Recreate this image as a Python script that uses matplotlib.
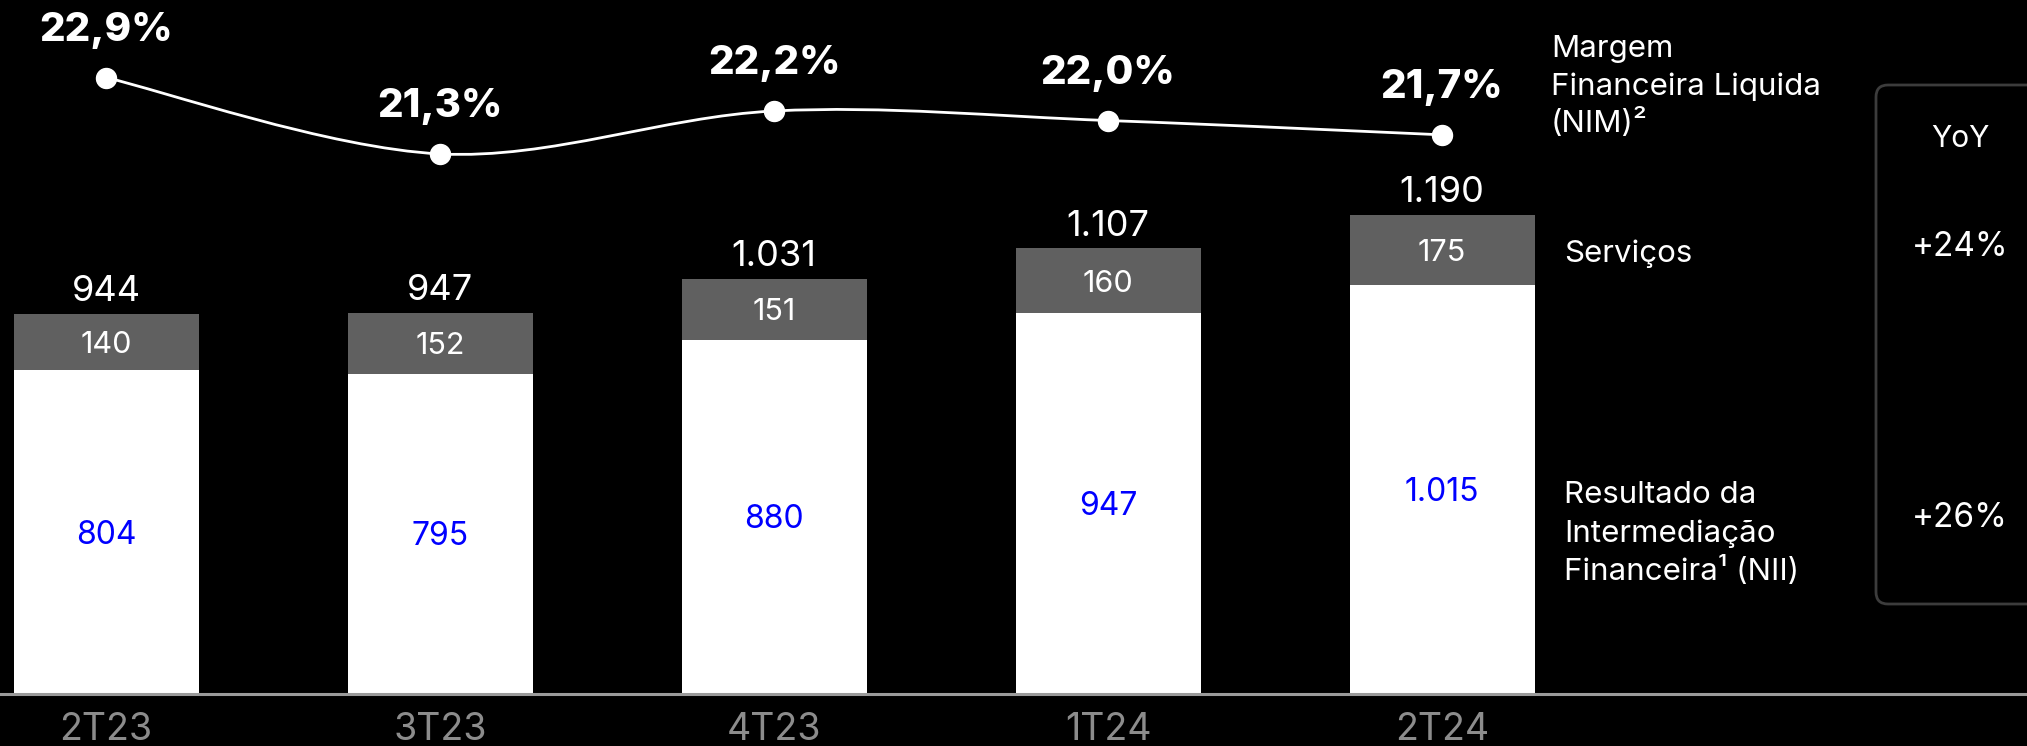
import matplotlib
matplotlib.use('Agg')
import matplotlib.pyplot as plt
from matplotlib.path import Path
from matplotlib.patches import PathPatch, FancyBboxPatch
from matplotlib.transforms import IdentityTransform
import numpy as np

# ---- data ----
categories = ['2T23', '3T23', '4T23', '1T24', '2T24']
nii = [804, 795, 880, 947, 1015]
servicos = [140, 152, 151, 160, 175]
nim = [22.9, 21.3, 22.2, 22.0, 21.7]
yoy_labels = ['+24%', '+26%']


def fmt_int(v):
    return f"{v:,}".replace(',', '.')


def fmt_pct(v):
    return f"{v:.1f}%".replace('.', ',')


plt.rcParams['font.family'] = ['Inter', 'DejaVu Sans']

W, H = 2027, 746
fig = plt.figure(figsize=(W / 100, H / 100), dpi=100, facecolor='black')

base_px = 694
px_per_unit = 0.4026
spacing = 334
first_c = 106

ax = fig.add_axes([0, (H - base_px) / H, 1, base_px / H])
ax.set_facecolor('black')
x = np.arange(len(categories))
ax.set_xlim(-first_c / spacing, (W - first_c) / spacing)
ax.set_ylim(0, base_px / px_per_unit)
bw = 185 / spacing

totals = [a + b for a, b in zip(nii, servicos)]
ax.bar(x, nii, bw, color='white', zorder=2)
ax.bar(x, servicos, bw, bottom=nii, color='#606060', zorder=2)

for s in ['top', 'left', 'right']:
    ax.spines[s].set_visible(False)
ax.spines['bottom'].set_color('#9a9a9a')
ax.spines['bottom'].set_linewidth(2.2)
ax.spines['bottom'].set_zorder(3)
ax.set_yticks([])
ax.set_xticks(x, categories)
ax.tick_params(axis='x', length=0, pad=13, labelsize=27, labelcolor='#8c8c8c')

for i in range(len(x)):
    ax.annotate(fmt_int(nii[i]), (x[i], nii[i] / 2), xytext=(0, -3),
                textcoords='offset pixels', color='#0000ff', ha='center',
                va='center', fontsize=23, zorder=4)
    ax.annotate(fmt_int(servicos[i]), (x[i], nii[i] + servicos[i] / 2),
                xytext=(0, -3), textcoords='offset pixels', color='white',
                ha='center', va='center', fontsize=22, zorder=4)
    ax.annotate(fmt_int(totals[i]), (x[i], totals[i]), xytext=(0, 22),
                textcoords='offset pixels', ha='center', va='center',
                fontsize=26, color='white', zorder=4)

# ---- NIM line ----
ax2 = ax.twinx()
ax2.set_ylim(22.9 - (base_px - 77.6) / 47.7, 22.9 + 77.6 / 47.7)
ax2.axis('off')
pts = np.column_stack([x, nim]).astype(float)
n = len(pts)
verts = [pts[0]]
codes = [Path.MOVETO]
for i in range(n - 1):
    p0 = pts[max(i - 1, 0)]
    p1 = pts[i]
    p2 = pts[i + 1]
    p3 = pts[min(i + 2, n - 1)]
    c1 = p1 + (p2 - p0) / 6
    c2 = p2 - (p3 - p1) / 6
    verts += [c1, c2, p2]
    codes += [Path.CURVE4] * 3
ax2.add_patch(PathPatch(Path(verts, codes), facecolor='none', edgecolor='white',
                        lw=2.0, zorder=3))
ax2.plot(x, nim, 'o', ms=14.4, color='white', zorder=4)
for i in range(n):
    ax2.annotate(fmt_pct(nim[i]), (x[i], nim[i]), xytext=(0, 47),
                 textcoords='offset pixels', ha='center', va='center',
                 fontsize=29, fontweight='heavy', color='white')


# ---- right side labels ----
def ftext(px, py, s, **kw):
    fig.text(px / W, 1 - py / H, s, color='white', **kw)


fs_lab = 22.5
ftext(1551, 57, 'Margem', fontsize=fs_lab, va='baseline')
ftext(1551, 95, 'Financeira Liquida', fontsize=fs_lab, va='baseline')
ftext(1551, 132, '(NIM)²', fontsize=fs_lab, va='baseline')
ftext(1564, 262, 'Serviços', fontsize=fs_lab, va='baseline')
ftext(1564, 503, 'Resultado da', fontsize=fs_lab, va='baseline')
ftext(1564, 542, 'Intermediação', fontsize=fs_lab, va='baseline')
ftext(1564, 580, 'Financeira¹ (NII)', fontsize=fs_lab, va='baseline')

box = FancyBboxPatch((1876, H - 604), 220, 604 - 85,
                     boxstyle='round,pad=0,rounding_size=12',
                     facecolor='black', edgecolor='#3c3c3c', lw=2.0,
                     transform=IdentityTransform(), zorder=1)
fig.add_artist(box)
ftext(1960, 139, 'YoY', fontsize=21.5, ha='center', va='center')
ftext(1960, 247, yoy_labels[0], fontsize=24, ha='center', va='center')
ftext(1960, 518, yoy_labels[1], fontsize=24, ha='center', va='center')

fig.savefig('out.png', dpi=100, facecolor='black')
